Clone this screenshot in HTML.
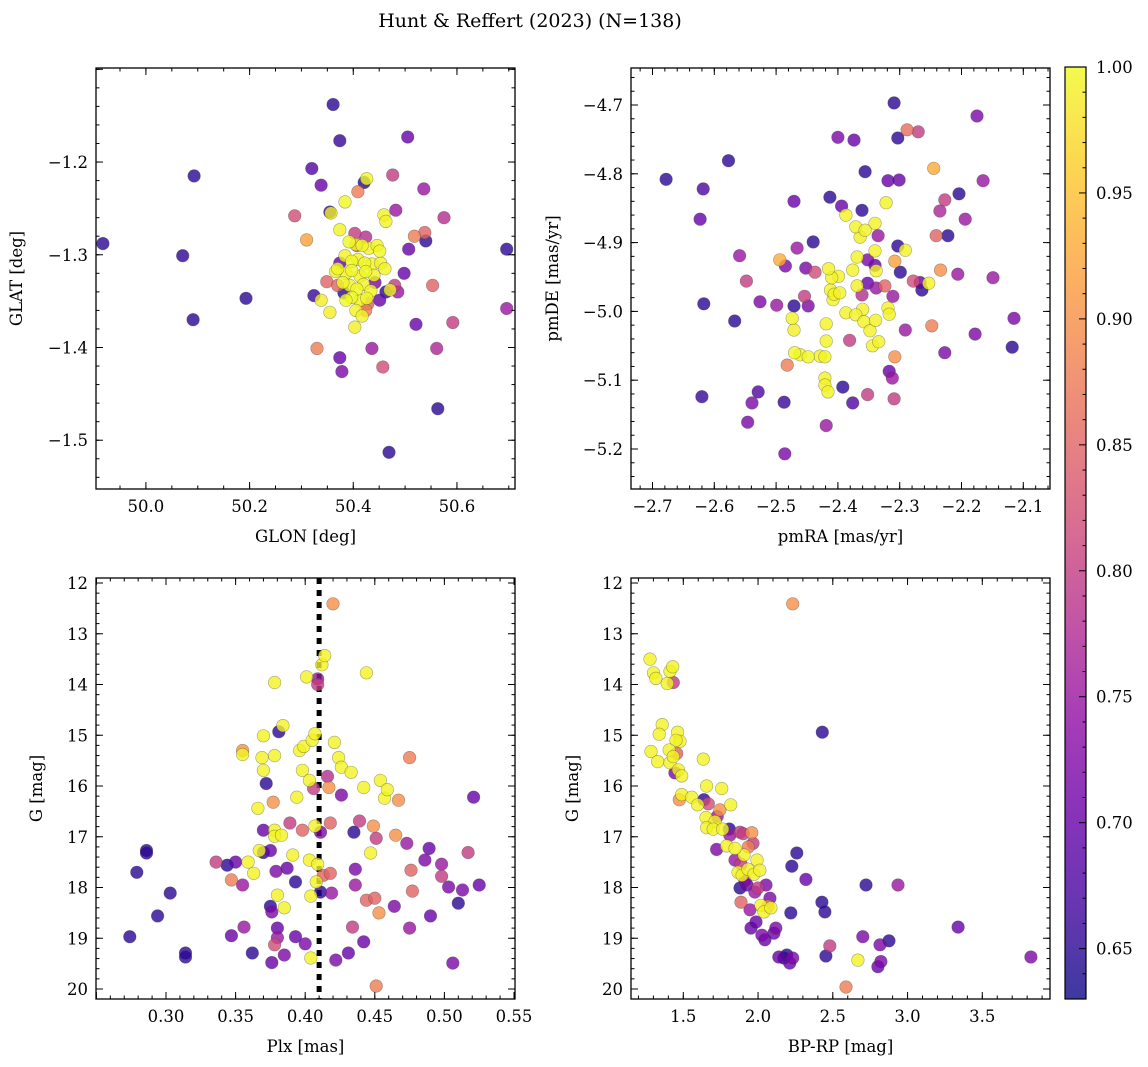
<!DOCTYPE html>
<html><head><meta charset="utf-8"><style>
html,body{margin:0;padding:0;background:#fff;}
svg{display:block;font-family:"DejaVu Serif","Liberation Serif",serif;}
</style></head><body>
<svg id="fig" width="1148" height="1067" viewBox="0 0 1148 1067">
<defs>
<linearGradient id="plasma" x1="0" y1="1" x2="0" y2="0">
<stop offset="0" stop-color="#0d0887"/><stop offset="0.1" stop-color="#41049d"/><stop offset="0.2" stop-color="#6a00a8"/><stop offset="0.3" stop-color="#8f0da4"/><stop offset="0.4" stop-color="#b12a90"/><stop offset="0.5" stop-color="#cc4778"/><stop offset="0.6" stop-color="#e16462"/><stop offset="0.7" stop-color="#f2844b"/><stop offset="0.8" stop-color="#fca636"/><stop offset="0.9" stop-color="#fcce25"/><stop offset="1" stop-color="#f0f921"/>
</linearGradient>
</defs>
<text x="530" y="27" text-anchor="middle" font-size="19">Hunt &amp; Reffert (2023) (N=138)</text>
</svg>
<script>
// ---- data ----
const p1Glon=[49.917,50.093,50.071,50.193,50.091,50.361,50.374,50.320,50.338,50.287,50.310,50.324,50.338,50.349,50.330,50.374,50.378,50.355,50.357,50.384,50.409,50.421,50.426,50.476,50.459,50.463,50.482,50.536,50.505,50.518,50.538,50.507,50.540,50.575,50.498,50.486,50.480,50.471,50.463,50.553,50.521,50.592,50.561,50.563,50.469,50.457,50.436,50.696,50.696,
50.374,50.392,50.405,50.417,50.430,50.446,50.451,50.384,50.397,50.409,50.422,50.436,50.453,50.370,50.386,50.397,50.413,50.424,50.440,50.461,50.380,50.393,50.407,50.420,50.434,50.397,50.413,50.426,50.405,50.417,50.386,50.366,50.403,50.355,
50.374,50.403,50.424,50.370,50.442,50.428,50.424,50.382,50.451,50.407];
const p1Glat=[-1.288,-1.215,-1.301,-1.347,-1.370,-1.138,-1.177,-1.207,-1.225,-1.258,-1.284,-1.344,-1.349,-1.329,-1.401,-1.411,-1.426,-1.254,-1.255,-1.243,-1.232,-1.222,-1.218,-1.214,-1.257,-1.264,-1.252,-1.229,-1.173,-1.280,-1.276,-1.294,-1.285,-1.260,-1.320,-1.340,-1.333,-1.338,-1.340,-1.333,-1.375,-1.373,-1.401,-1.466,-1.513,-1.421,-1.401,-1.294,-1.358,
-1.273,-1.286,-1.289,-1.290,-1.293,-1.290,-1.296,-1.301,-1.307,-1.305,-1.309,-1.310,-1.309,-1.315,-1.320,-1.317,-1.323,-1.318,-1.322,-1.315,-1.330,-1.333,-1.337,-1.332,-1.339,-1.346,-1.349,-1.347,-1.360,-1.366,-1.349,-1.318,-1.378,-1.362,
-1.309,-1.277,-1.281,-1.333,-1.330,-1.353,-1.360,-1.341,-1.349,-1.290];
const p1Prob=[.65,.65,.65,.65,.65,.65,.66,.68,.70,.82,.92,.66,.99,.85,.88,.70,.72,.65,.99,1.0,.88,.65,1.0,.80,.995,.995,.75,.75,.70,.88,.85,.70,.65,.78,.70,.75,.80,.995,.65,.85,.70,.80,.77,.65,.65,.82,.75,.65,.75,
.995,1.0,.995,1.0,.995,.995,1.0,.995,1.0,.995,1.0,.995,.995,1.0,.995,1.0,.995,1.0,.995,.995,1.0,.995,1.0,.995,.995,1.0,.995,1.0,.995,.995,1.0,.995,.99,.99,
.70,.80,.78,.85,.72,.85,.88,.65,.70,.82];

const p2Pmra=[-2.678,-2.577,-2.618,-2.623,-2.617,-2.567,-2.620,-2.559,-2.548,-2.546,-2.539,-2.529,-2.526,-2.499,-2.487,-2.486,-2.494,-2.485,-2.471,-2.466,-2.471,-2.474,-2.471,-2.470,-2.461,-2.448,-2.482,-2.440,-2.452,-2.429,-2.437,-2.448,-2.454,-2.400,-2.413,-2.408,-2.419,-2.419,-2.421,-2.421,-2.421,-2.416,-2.419,-2.399,-2.412,-2.410,-2.415,-2.406,-2.397,-2.394,-2.387,-2.381,-2.376,-2.374,-2.392,-2.361,-2.356,-2.387,-2.371,-2.364,-2.369,-2.376,-2.369,-2.361,-2.360,-2.371,-2.358,-2.348,-2.339,-2.352,-2.338,-2.352,-2.335,-2.340,-2.356,-2.340,-2.338,-2.340,-2.352,-2.344,-2.334,-2.322,-2.319,-2.324,-2.319,-2.317,-2.317,-2.312,-2.309,-2.309,-2.308,-2.303,-2.301,-2.303,-2.311,-2.308,-2.299,-2.291,-2.291,-2.288,-2.270,-2.278,-2.267,-2.264,-2.253,-2.248,-2.245,-2.241,-2.234,-2.235,-2.227,-2.227,-2.222,-2.204,-2.206,-2.194,-2.175,-2.178,-2.165,-2.149,-2.115,-2.118];
const p2Pmde=[-4.808,-4.781,-4.822,-4.866,-4.989,-5.014,-5.124,-4.919,-4.956,-5.161,-5.133,-5.117,-4.986,-4.991,-5.132,-5.207,-4.925,-4.934,-4.840,-4.908,-4.992,-5.010,-5.027,-5.060,-5.063,-5.066,-5.078,-4.899,-4.937,-5.065,-4.943,-4.992,-4.978,-4.747,-4.834,-4.983,-5.018,-5.043,-5.066,-5.097,-5.107,-5.117,-5.166,-4.949,-4.969,-4.951,-4.938,-4.975,-4.973,-4.847,-5.002,-5.042,-5.133,-4.751,-5.110,-4.853,-4.797,-4.860,-4.877,-4.892,-4.921,-4.940,-4.963,-4.976,-4.997,-5.005,-5.015,-5.028,-5.013,-4.959,-4.966,-4.925,-4.890,-4.872,-4.882,-4.933,-4.941,-4.912,-5.121,-5.050,-5.044,-4.842,-4.810,-4.963,-4.995,-5.087,-5.004,-5.097,-5.127,-4.697,-4.927,-4.748,-4.809,-4.905,-4.978,-5.066,-4.943,-5.027,-4.911,-4.736,-4.739,-4.956,-4.958,-4.969,-4.959,-5.021,-4.792,-4.890,-4.940,-4.854,-4.838,-5.060,-4.890,-4.829,-4.946,-4.866,-4.716,-5.033,-4.810,-4.951,-5.010,-5.052];
const p2Prob=[.65,.65,.68,.70,.65,.65,.66,.75,.80,.72,.72,.68,.72,.75,.66,.72,.93,.72,.70,.75,.65,.995,.99,1.0,.995,1.0,.88,.65,.72,.995,.82,.72,.80,.72,.65,.995,.995,.995,.995,.995,.995,.995,.75,.995,.995,.995,.995,.995,.995,.70,.995,.80,.68,.70,.65,.65,.65,.995,.995,.99,.995,.995,.99,.78,.995,.995,.995,.995,.995,.70,.75,.72,.75,.995,.995,.70,.995,.995,.80,.995,.995,.995,.70,.85,.995,.70,.995,.75,.80,.65,.92,.65,.70,.65,.75,.90,.65,.75,.995,.86,.80,.82,.70,.65,.995,.88,.93,.85,.90,.77,.80,.72,.65,.65,.75,.75,.72,.72,.75,.75,.72,.65];

const p3Plx=[0.274,0.279,0.286,0.286,0.294,0.303,0.314,0.314,0.336,0.344,0.347,0.347,0.350,0.355,0.355,0.355,0.356,0.359,0.362,0.363,0.366,0.367,0.369,0.370,0.370,0.370,0.370,0.372,0.375,0.375,0.376,0.376,0.378,0.378,0.378,0.378,0.377,0.378,0.379,0.380,0.380,0.380,0.381,0.383,0.384,0.385,0.385,0.387,0.389,0.391,0.393,0.394,0.393,0.396,0.398,0.398,0.399,0.400,0.401,0.403,0.403,0.404,0.404,0.405,0.406,0.407,0.407,0.408,0.409,0.409,0.409,0.411,0.411,0.412,0.413,0.414,0.416,0.418,0.417,0.418,0.419,0.420,0.421,0.422,0.424,0.426,0.426,0.431,0.433,0.434,0.435,0.436,0.436,0.439,0.442,0.442,0.444,0.444,0.447,0.449,0.450,0.451,0.451,0.453,0.454,0.457,0.459,0.464,0.465,0.467,0.473,0.475,0.475,0.476,0.477,0.486,0.489,0.490,0.498,0.498,0.503,0.506,0.510,0.513,0.517,0.521,0.525];
const p3G=[18.97,17.70,17.27,17.32,18.56,18.11,19.29,19.37,17.50,17.56,17.85,18.95,17.50,17.95,15.38,15.30,18.78,17.50,19.29,17.72,16.44,17.27,15.44,15.01,15.69,17.31,16.87,15.95,17.27,18.37,18.48,19.48,19.13,13.96,15.40,16.87,16.32,16.99,17.68,18.15,18.80,18.99,14.93,16.97,14.81,18.40,19.33,17.62,16.73,17.36,17.89,16.22,18.97,15.30,16.87,15.69,15.22,19.11,13.85,15.89,17.46,18.17,19.39,15.10,16.05,14.97,16.79,17.89,14.00,13.89,17.54,16.91,18.09,13.61,17.76,13.43,15.81,16.73,16.03,17.72,18.11,12.41,15.14,19.43,15.44,15.63,16.18,19.29,15.73,18.78,16.91,17.95,17.64,16.69,19.07,16.03,13.77,18.25,17.32,16.79,18.21,17.03,19.94,18.50,15.89,16.24,16.07,18.37,16.97,16.28,17.13,15.44,18.80,17.66,18.07,17.46,17.23,18.56,17.54,17.78,17.99,19.49,18.31,18.05,17.31,16.22,17.95];
const p3Prob=[.65,.65,.65,.65,.65,.65,.65,.65,.80,.65,.88,.70,.70,.75,.995,.90,.75,.995,.65,.995,.995,.995,.995,.995,.995,.65,.70,.65,.70,.65,.72,.70,.82,.995,.995,.995,.90,.995,.72,.995,.70,.75,.65,.995,.995,.995,.72,.70,.80,.995,.65,.995,.70,.995,.85,.995,.995,.72,.995,.995,.995,.995,.995,.995,.80,.995,.995,.995,.80,.75,.995,.72,.65,.995,.85,.995,.78,.85,.90,.85,.75,.90,.995,.72,.995,.995,.72,.70,.995,.80,.65,.75,.72,.80,.70,.995,.995,.85,.995,.90,.85,.80,.88,.90,.995,.995,.995,.72,.90,.90,.75,.88,.75,.85,.85,.72,.70,.70,.75,.80,.72,.72,.65,.72,.80,.70,.70];
const p3Cut=[0.41];

const p4Bprp=[1.277,1.301,1.317,1.393,1.433,1.411,1.429,1.359,1.339,1.284,1.329,1.462,1.478,1.451,1.406,1.456,1.411,1.433,1.467,1.444,1.489,1.634,1.656,1.757,1.489,1.473,1.556,1.596,1.638,1.667,1.817,1.652,1.745,1.727,1.712,1.656,1.700,1.763,1.808,1.812,1.879,1.901,1.958,1.790,1.723,1.935,2.259,
1.846,1.866,1.886,1.879,1.893,1.886,1.906,1.913,1.926,1.933,1.946,1.953,1.973,1.979,1.986,1.993,1.999,2.012,2.019,2.026,2.039,2.046,2.053,2.066,2.079,2.119,2.086,2.106,2.139,2.173,2.192,2.212,2.232,2.219,2.226,2.320,2.232,2.430,2.722,2.936,2.427,2.447,2.480,2.454,2.701,2.816,2.822,2.802,2.876,3.338,3.825,2.668,2.588,1.846,1.966];
const p4G=[13.50,13.77,13.88,13.98,13.96,13.74,13.65,14.79,14.98,15.32,15.52,14.94,15.12,15.10,15.29,15.36,15.54,15.42,15.68,15.74,15.80,15.47,16.00,16.05,16.17,16.27,16.22,16.37,16.27,16.35,16.37,16.62,16.47,16.60,16.70,16.82,16.85,16.85,16.85,16.97,16.91,16.94,16.92,17.18,17.25,17.20,17.32,
17.46,17.70,17.54,18.01,17.76,18.29,17.36,17.86,17.95,17.64,18.44,18.80,17.74,18.09,18.68,17.46,18.01,17.66,18.35,18.94,18.48,19.03,17.95,18.37,18.21,18.80,18.40,18.90,19.37,19.39,19.33,19.49,19.39,18.50,17.58,17.84,12.41,14.94,17.95,17.95,18.29,18.48,19.15,19.35,18.97,19.13,19.46,19.56,19.05,18.78,19.37,19.43,19.96,17.23,17.13];
const p4Prob=[.995,.995,.995,.995,.80,.995,.995,.995,.995,.995,.995,.995,.995,.995,.995,.85,.995,.995,.995,.72,.995,.995,.995,.995,.995,.90,.995,.995,.65,.82,.995,.995,.90,.75,.995,.995,.995,.995,.65,.75,.80,.80,.90,.995,.72,.88,.65,
.75,.995,.80,.65,.995,.85,.995,.72,.70,.995,.75,.70,.995,.75,.70,.995,.80,.995,.995,.72,.995,.70,.72,.90,.72,.72,.995,.70,.70,.65,.65,.70,.72,.65,.65,.70,.90,.65,.65,.75,.65,.65,.80,.65,.72,.72,.72,.70,.65,.70,.72,.995,.88,.995,.80];

const cbTicks=[0.65,0.70,0.75,0.80,0.85,0.90,0.95,1.00];

// ---- rendering ----
const NS='http://www.w3.org/2000/svg';
const svg=document.getElementById('fig');
function mk(tag,attrs,parent){const e=document.createElementNS(NS,tag);for(const k in attrs)e.setAttribute(k,attrs[k]);(parent||svg).appendChild(e);return e;}
const stops=[[0,[13,8,135]],[.1,[65,4,157]],[.2,[106,0,168]],[.3,[143,13,164]],[.4,[177,42,144]],[.5,[204,71,120]],[.6,[225,100,98]],[.7,[242,132,75]],[.8,[252,166,54]],[.9,[252,206,37]],[1,[240,249,33]]];
const VMIN=0.63,VMAX=1.0;
function plasma(v){let t=(v-VMIN)/(VMAX-VMIN);t=Math.max(0,Math.min(1,t));for(let i=1;i<stops.length;i++){if(t<=stops[i][0]){const a=stops[i-1],b=stops[i];const f=(t-a[0])/(b[0]-a[0]);const c=a[1].map((x,j)=>Math.round(x+(b[1][j]-x)*f));return `rgb(${c[0]},${c[1]},${c[2]})`;}}return 'rgb(240,249,33)';}

const FS=16.5;
function panel(cfg){
  const {x0,y0,x1,y1,xmin,xmax,ymin,ymax,name}=cfg;
  const sx=v=>x0+(v-xmin)/(xmax-xmin)*(x1-x0);
  const sy=v=>y1-(v-ymin)/(ymax-ymin)*(y1-y0);
  const g=mk('g',{});
  
  
  const clip=mk('clipPath',{id:'clip-'+name},svg);mk('rect',{x:x0,y:y0,width:x1-x0,height:y1-y0},clip);
  const pg=mk('g',{'clip-path':'url(#clip-'+name+')'},g);
  
  
  const idx=cfg.xs.map((_,i)=>i).sort((a,b)=>cfg.cs[a]-cfg.cs[b]);
  if(cfg.before)cfg.before(pg,sx,sy);
  idx.forEach(i=>{
    const c=mk('circle',{cx:sx(cfg.xs[i]).toFixed(1),cy:sy(cfg.ys[i]).toFixed(1),r:6.3,fill:plasma(cfg.cs[i]),'fill-opacity':0.8,stroke:'rgba(60,60,60,0.45)','stroke-width':0.6},pg);
    
    
  });
  const tg=mk('g',{stroke:'#000','stroke-width':1},g);
  function ticksX(step,len){const s=Math.ceil((xmin-1e-9)/step);for(let k=s;k*step<=xmax+1e-9;k++){const X=sx(k*step);mk('line',{x1:X,x2:X,y1:y1,y2:y1-len},tg);mk('line',{x1:X,x2:X,y1:y0,y2:y0+len},tg);}}
  function ticksY(step,len){const lo=Math.min(ymin,ymax),hi=Math.max(ymin,ymax);const s=Math.ceil((lo-1e-9)/step);for(let k=s;k*step<=hi+1e-9;k++){const Y=sy(k*step);mk('line',{x1:x0,x2:x0+len,y1:Y,y2:Y},tg);mk('line',{x1:x1,x2:x1-len,y1:Y,y2:Y},tg);}}
  ticksX(cfg.xminor,3.5);ticksX(cfg.xmajor,7);ticksY(cfg.yminor,3.5);ticksY(cfg.ymajor,7);
  const fr=mk('rect',{x:x0,y:y0,width:x1-x0,height:y1-y0,fill:'none',stroke:'#000','stroke-width':1.3},g);
  
  
  cfg.xticks.forEach(v=>{const t=mk('text',{x:sx(v),y:y1+23,'text-anchor':'middle','font-size':FS},g);t.textContent=cfg.xfmt(v);
    
    });
  cfg.yticks.forEach(v=>{const t=mk('text',{x:x0-8,y:sy(v)+6,'text-anchor':'end','font-size':FS},g);t.textContent=cfg.yfmt(v);
    
    });
  const xl=mk('text',{x:(x0+x1)/2,y:y1+53,'text-anchor':'middle','font-size':FS},g);xl.textContent=cfg.xlabel;
  
  
  const yl=mk('text',{x:0,y:0,'text-anchor':'middle','font-size':FS,transform:`translate(${cfg.ylx},${(y0+y1)/2}) rotate(-90)`},g);yl.textContent=cfg.ylabel;
  
  
}
const neg=v=>(v<0?'\u2212':'')+Math.abs(v).toFixed(1);
const intf=v=>String(Math.round(v));

panel({name:'glon-glat',x0:96,y0:68,x1:515,y1:489,xmin:49.9037,xmax:50.712,ymin:-1.5526,ymax:-1.0986,
  xs:p1Glon,ys:p1Glat,cs:p1Prob,xmajor:0.2,xminor:0.05,ymajor:0.1,yminor:0.02,
  xticks:[50.0,50.2,50.4,50.6],yticks:[-1.2,-1.3,-1.4,-1.5],xfmt:v=>v.toFixed(1),yfmt:neg,xlabel:'GLON [deg]',ylabel:'GLAT [deg]',ylx:22});
panel({name:'pmra-pmde',x0:631,y0:68,x1:1050,y1:489,xmin:-2.6+(631-714.3)/618,xmax:-2.6+(1050-714.3)/618,ymin:-4.7-(489-105)/688,ymax:-4.7+(105-68)/688,
  xs:p2Pmra,ys:p2Pmde,cs:p2Prob,xmajor:0.1,xminor:0.02,ymajor:0.1,yminor:0.02,
  xticks:[-2.7,-2.6,-2.5,-2.4,-2.3,-2.2,-2.1],yticks:[-4.7,-4.8,-4.9,-5.0,-5.1,-5.2],xfmt:neg,yfmt:neg,xlabel:'pmRA [mas/yr]',ylabel:'pmDE [mas/yr]',ylx:558});
panel({name:'plx-g',x0:96,y0:578,x1:515,y1:999,xmin:0.30+(96-166)/1392,xmax:0.30+(515-166)/1392,ymin:12+(999-583)/50.75,ymax:12-(583-578)/50.75,
  xs:p3Plx,ys:p3G,cs:p3Prob,xmajor:0.05,xminor:0.01,ymajor:1,yminor:0.2,
  xticks:[0.30,0.35,0.40,0.45,0.50,0.55],yticks:[12,13,14,15,16,17,18,19,20],xfmt:v=>v.toFixed(2),yfmt:intf,xlabel:'Plx [mas]',ylabel:'G [mag]',ylx:42,
  before:(pg,sx,sy)=>{p3Cut.forEach(v=>{const l=mk('line',{x1:sx(v),x2:sx(v),y1:578,y2:999,stroke:'#000','stroke-width':5,'stroke-dasharray':'6,6'},pg);
    
    });}});
panel({name:'bprp-g',x0:631,y0:578,x1:1050,y1:999,xmin:1.5+(631-683.3)/149.5,xmax:1.5+(1050-683.3)/149.5,ymin:12+(999-583)/50.75,ymax:12-(583-578)/50.75,
  xs:p4Bprp,ys:p4G,cs:p4Prob,xmajor:0.5,xminor:0.1,ymajor:1,yminor:0.2,
  xticks:[1.5,2.0,2.5,3.0,3.5],yticks:[12,13,14,15,16,17,18,19,20],xfmt:v=>v.toFixed(1),yfmt:intf,xlabel:'BP-RP [mag]',ylabel:'G [mag]',ylx:578});

(function(){
  const x0=1065,x1=1086,y0=67,y1=999;
  const sy=v=>y1-(v-VMIN)/(VMAX-VMIN)*(y1-y0);
  const g=mk('g',{});
  
  
  mk('rect',{x:x0,y:y0,width:x1-x0,height:y1-y0,fill:'url(#plasma)','fill-opacity':0.8},g);
  mk('rect',{x:x0,y:y0,width:x1-x0,height:y1-y0,fill:'none',stroke:'#000','stroke-width':1.2},g);
  for(let k=Math.ceil(VMIN*100);k<=100;k++){const Y=sy(k/100);const major=(k%5===0);mk('line',{x1:x1,x2:x1-(major?7:3.5),y1:Y,y2:Y,stroke:'#000','stroke-width':1},g);}
  cbTicks.forEach(v=>{const t=mk('text',{x:x1+10,y:sy(v)+6,'font-size':FS},g);t.textContent=v.toFixed(2);
    
    });
})();
</script>
</body></html>
